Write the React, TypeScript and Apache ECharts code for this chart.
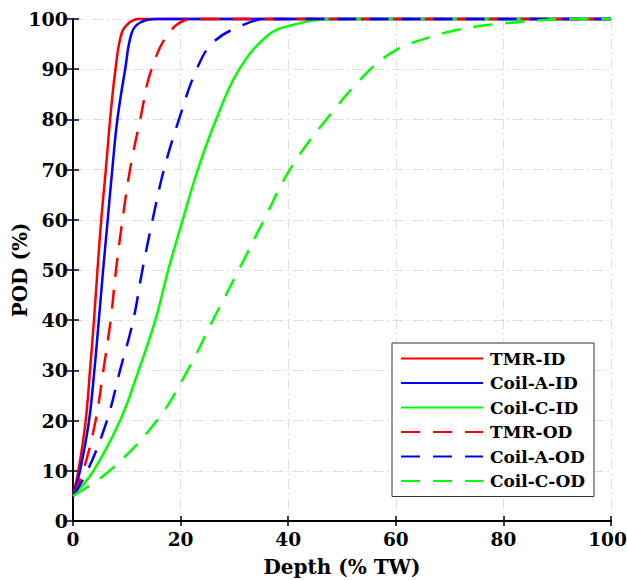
import React, { useEffect, useRef } from "react";
import * as echarts from "echarts";

const seriesNames = ["TMR-ID", "Coil-A-ID", "Coil-C-ID", "TMR-OD", "Coil-A-OD", "Coil-C-OD"];
const seriesColors = ["#ff0000", "#0000ff", "#00ff00", "#ff0000", "#0000ff", "#00ff00"];
const seriesDashed = [false, false, false, true, true, true];

// [depth (% TW), POD (%)]
const tmrId: number[][] = [[0, 5], [1.0, 10], [2.36, 20], [3.16, 30], [3.9, 40], [4.55, 50], [5.25, 60], [6.1, 70], [6.9, 80], [7.9, 90], [9.05, 97.2], [10.5, 99.3], [12.2, 100], [100, 100]];
const coilAId: number[][] = [[0, 5], [1.3, 10], [2.98, 20], [3.97, 30], [4.8, 40], [5.6, 50], [6.45, 60], [7.3, 70], [8.25, 80], [9.7, 90], [10.9, 97.2], [12.5, 99.3], [15.6, 100], [100, 100]];
const coilCId: number[][] = [[0, 5], [3.8, 10], [8.74, 20], [12.2, 30], [15.3, 40], [17.7, 50], [20.4, 60], [23.2, 70], [26.6, 80], [30.9, 90], [36.3, 96.8], [40.4, 98.7], [48.4, 100], [100, 100]];
const tmrOd: number[][] = [[0, 5], [1.9, 10], [4.2, 20], [5.64, 30], [7.0, 40], [8.0, 50], [9.2, 60], [10.6, 70], [12.5, 80], [14.6, 90], [18.2, 97.7], [22.4, 100], [100, 100]];
const coilAOd: number[][] = [[0, 5], [2.7, 10], [6.3, 20], [8.74, 30], [11.2, 40], [12.9, 50], [14.8, 60], [16.9, 70], [19.7, 80], [23.0, 90], [26.1, 95.4], [31.4, 98.7], [36, 100], [100, 100]];
const coilCOd: number[][] = [[0, 5], [6.8, 10], [15.6, 20], [21.3, 30], [26, 40], [30.8, 50], [35.5, 60], [40.3, 70], [47.1, 80], [55.3, 90], [60.5, 94.1], [64.6, 95.8], [70.5, 97.6], [77, 98.8], [83.2, 99.4], [92, 100], [100, 100]];
const seriesData = [tmrId, coilAId, coilCId, tmrOd, coilAOd, coilCOd];

const xTicks = [0, 20, 40, 60, 80, 100];
const yTicks = [0, 10, 20, 30, 40, 50, 60, 70, 80, 90, 100];

const FONT = "'DejaVu Serif', 'Liberation Serif', serif";

export default function App() {
  const ref = useRef<HTMLDivElement>(null);
  useEffect(() => {
    if (!ref.current) return;
    const chart = echarts.init(ref.current, null, { renderer: "svg" });
    const splitLine = {
      show: true,
      lineStyle: { color: "#dedede", width: 1, type: [10, 4, 2, 4] as any },
    };
    const axisLine = { show: true, lineStyle: { color: "#000", width: 2 } };
    const labelFont = { fontFamily: FONT, fontWeight: "bold", color: "#000" };
    chart.setOption({
      animation: false,
      backgroundColor: "#fff",
      grid: { left: 73, right: 16, top: 19, bottom: 59, containLabel: false, outerBoundsMode: "none" },
      xAxis: [
        {
          type: "value",
          min: 0,
          max: 100,
          interval: 20,
          name: "Depth (% TW)",
          nameLocation: "middle",
          nameGap: 36,
          nameMoveOverlap: false,
          nameTextStyle: { ...labelFont, fontSize: 20 },
          axisLine,
          axisTick: { show: true, inside: true, length: 5, lineStyle: { color: "#000", width: 1.5 } },
          axisLabel: {
            ...labelFont,
            fontSize: 18.5,
            margin: 9,
            rich: { last: { ...labelFont, fontSize: 18.5, padding: [0, 7, 0, 0] } },
            formatter: (v: number) =>
              !xTicks.includes(v) ? "" : v === xTicks[xTicks.length - 1] ? `{last|${v}}` : String(v),
          },
          splitLine,
        },
        {
          type: "value",
          position: "top",
          min: 0,
          max: 100,
          interval: 20,
          axisLine,
          axisTick: { show: true, inside: true, length: 5, lineStyle: { color: "#000", width: 1.5 } },
          axisLabel: { show: false },
          splitLine: { show: false },
        },
      ],
      yAxis: [
        {
          type: "value",
          min: 0,
          max: 100,
          interval: 10,
          name: "POD (%)",
          nameLocation: "middle",
          nameGap: 43,
          nameMoveOverlap: false,
          nameTextStyle: { ...labelFont, fontSize: 20 },
          axisLine,
          axisTick: { show: true, inside: true, length: 6, lineStyle: { color: "#000", width: 1.5 } },
          axisLabel: { ...labelFont, fontSize: 19, margin: 5,
            formatter: (v: number) => (yTicks.includes(v) ? String(v) : "") },
          splitLine,
        },
        {
          type: "value",
          position: "right",
          min: 0,
          max: 100,
          interval: 10,
          axisLine,
          axisTick: { show: true, inside: true, length: 6, lineStyle: { color: "#000", width: 1.5 } },
          axisLabel: { show: false },
          splitLine: { show: false },
        },
      ],
      legend: {
        orient: "vertical",
        left: 392,
        top: 343,
        padding: [6, 9, 6, 8],
        backgroundColor: "#fff",
        borderColor: "#333",
        borderWidth: 1,
        borderRadius: 0,
        itemWidth: 82,
        itemHeight: 12,
        itemGap: 5.5,
        itemStyle: { opacity: 0, color: "transparent", borderWidth: 0 },
        textStyle: { ...labelFont, fontSize: 17, lineHeight: 19, padding: [0, 0, 0, 2] },
        data: seriesNames,
      },
      series: seriesNames.map((name, i) => ({
        name,
        type: "line",
        data: seriesData[i],
        showSymbol: false,
        symbol: "none",
        smooth: 0.4,
        clip: false,
        z: 5,
        lineStyle: {
          color: seriesColors[i],
          width: 2.5,
          type: seriesDashed[i] ? [19, 13] : "solid",
        },
        itemStyle: { color: seriesColors[i] },
      })),
    });
    return () => chart.dispose();
  }, []);
  return <div ref={ref} style={{ position: "fixed", left: 0, top: 0, width: 627, height: 580 }} />;
}
